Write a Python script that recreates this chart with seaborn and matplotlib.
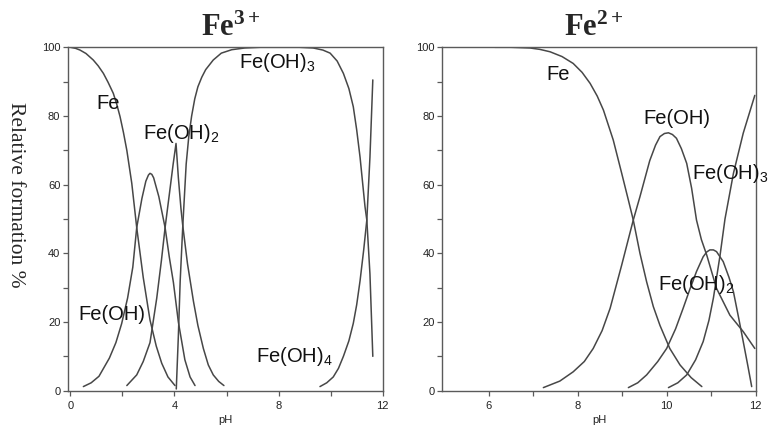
import matplotlib
matplotlib.use("Agg")
import matplotlib.pyplot as plt
import seaborn as sns
import pandas as pd

# ---------------- data ----------------
# Fe3+ panel
fe3_fe_ph = [0.0, 0.2, 0.37, 0.6, 0.88, 1.07, 1.27, 1.45, 1.65, 1.78, 1.91, 2.04, 2.17, 2.36, 2.55, 2.8, 3.06, 3.3, 3.51, 3.75, 4.02]
fe3_fe_val = [100, 99.7, 99.2, 98.2, 96.3, 94.6, 92.4, 89.8, 86.6, 83.5, 79.8, 75.2, 70, 60.4, 47.5, 33, 20.6, 13, 8, 4, 1.5]

fe3_feoh_ph = [0.5, 0.8, 1.1, 1.5, 1.75, 1.97, 2.2, 2.4, 2.55, 2.75, 2.9, 3.0, 3.06, 3.13, 3.2, 3.4, 3.64, 3.8, 3.96, 4.15, 4.4, 4.6, 4.79]
fe3_feoh_val = [1.2, 2.3, 4.2, 9.5, 14, 19.5, 27, 36, 47.5, 56, 61, 62.8, 63.3, 63, 62, 56.5, 47.5, 39, 31.5, 20, 9, 4, 1.5]

fe3_feoh2_ph = [2.17, 2.55, 2.8, 3.06, 3.32, 3.5, 3.64, 3.8, 3.95, 4.06, 4.15, 4.25, 4.32, 4.5, 4.73, 4.9, 5.11, 5.3, 5.49, 5.7, 5.9]
fe3_feoh2_val = [1.5, 4.6, 8.5, 14, 27, 38, 47.5, 57, 66, 72, 62, 53, 48, 37, 26, 19, 12.3, 7.5, 4.6, 2.7, 1.5]

fe3_feoh3_ph = [4.07, 4.15, 4.22, 4.32, 4.45, 4.55, 4.66, 4.78, 4.9, 5.05, 5.2, 5.49, 5.8, 6.2, 6.7, 7.3, 8.0, 8.8, 9.33,
                9.7, 9.98, 10.25, 10.49, 10.7, 10.87, 11.0, 11.13, 11.32, 11.39, 11.51, 11.62]
fe3_feoh3_val = [0.5, 16, 32, 48, 66, 74, 80, 85, 88.5, 91.3, 93.5, 96.3, 98.3, 99.3, 99.8, 100, 100, 100, 99.8,
                 99.2, 98.3, 96, 92.4, 88, 82.7, 76, 68, 53.6, 49.7, 34, 10]

fe3_feoh4_ph = [9.59, 9.85, 10.1, 10.3, 10.49, 10.7, 10.87, 11.0, 11.13, 11.27, 11.39, 11.51, 11.62]
fe3_feoh4_val = [1.2, 2.3, 4, 6.5, 10, 14.5, 19.6, 25, 32, 41, 49.7, 68, 90.5]

# Fe2+ panel
fe2_fe_ph = [6.14, 6.5, 6.93, 7.15, 7.38, 7.65, 7.9, 8.1, 8.28, 8.44, 8.58, 8.8, 8.99, 9.14, 9.25, 9.4, 9.55, 9.7, 9.85, 10.07, 10.3, 10.55, 10.79]
fe2_fe_val = [100, 100, 99.8, 99.4, 98.7, 97.3, 95.3, 92.7, 89.5, 85.8, 81.7, 73, 63.3, 55.5, 49.7, 40, 31.7, 24.5, 19, 12.3, 7.5, 3.8, 1.2]

fe2_feoh_ph = [7.23, 7.6, 7.9, 8.15, 8.35, 8.55, 8.73, 8.99, 9.25, 9.4, 9.62, 9.75, 9.85, 9.95, 10.04, 10.13, 10.22, 10.33, 10.45,
               10.56, 10.67, 10.78, 10.9, 11.12, 11.42, 11.72, 11.98]
fe2_feoh_val = [0.9, 2.8, 5.5, 8.5, 12.3, 17.5, 24, 36.6, 49.7, 56.5, 67, 71.5, 74, 74.9, 75.1, 74.6, 73.5, 70.5, 66.2,
                59, 49.7, 44, 39.5, 29.8, 22, 17.2, 12.3]

fe2_feoh2_ph = [9.14, 9.35, 9.55, 9.8, 10.0, 10.2, 10.37, 10.52, 10.67, 10.82, 10.9, 10.97, 11.05, 11.12, 11.27, 11.4, 11.5, 11.62, 11.72, 11.82, 11.91]
fe2_feoh2_val = [0.9, 2.3, 4.6, 8.5, 12.3, 18, 24, 29.5, 34.7, 39, 40.4, 41, 41, 40.5, 37.6, 33, 28.8, 21, 14.3, 7.5, 1.2]

fe2_feoh3_ph = [10.04, 10.25, 10.45, 10.65, 10.82, 10.95, 11.05, 11.2, 11.31, 11.5, 11.72, 11.98]
fe2_feoh3_val = [0.9, 2.3, 4.6, 9, 14.3, 20.5, 27, 39.5, 50, 63.3, 75, 86]

y_ticks = [0, 20, 40, 60, 80, 100]
fe3_xticks = [0, 4, 8, 12]
fe2_xticks = [6, 8, 10, 12]

# ---------------- style ----------------
sns.set_style("ticks")
plt.rcParams["font.family"] = ["Liberation Sans", "DejaVu Sans"]
plt.rcParams["mathtext.fontset"] = "custom"
plt.rcParams["mathtext.rm"] = "Liberation Sans"
plt.rcParams["mathtext.it"] = "Liberation Sans"
plt.rcParams["mathtext.bf"] = "Liberation Serif:bold"

LINE = "#474747"
SPINE = "#5a5a5a"

fig = plt.figure(figsize=(7.7, 4.32), dpi=100)
ax1 = fig.add_axes([68 / 770, 41.3 / 432, 314.7 / 770, 343.4 / 432])
ax2 = fig.add_axes([442.3 / 770, 41.3 / 432, 313.4 / 770, 343.4 / 432])


def draw(ax, ph, val):
    df = pd.DataFrame({"pH": ph, "v": val})
    sns.lineplot(data=df, x="pH", y="v", ax=ax, color=LINE, lw=1.1,
                 estimator=None, sort=False)


for ph, val in [(fe3_fe_ph, fe3_fe_val), (fe3_feoh_ph, fe3_feoh_val),
                (fe3_feoh2_ph, fe3_feoh2_val), (fe3_feoh3_ph, fe3_feoh3_val),
                (fe3_feoh4_ph, fe3_feoh4_val)]:
    draw(ax1, ph, val)

for ph, val in [(fe2_fe_ph, fe2_fe_val), (fe2_feoh_ph, fe2_feoh_val),
                (fe2_feoh2_ph, fe2_feoh2_val), (fe2_feoh3_ph, fe2_feoh3_val)]:
    draw(ax2, ph, val)

ax1.set_xlim(-0.09, 12.0)
ax2.set_xlim(4.96, 12.0)

for ax in (ax1, ax2):
    ax.set_ylim(0, 100)
    ax.set_yticks(y_ticks)
    ax.set_yticks([10, 30, 50, 70, 90], minor=True)
    ax.tick_params(which="both", direction="out", length=3.5, width=0.9,
                   color=SPINE, labelsize=8, pad=2, labelcolor="#222222")
    for s in ax.spines.values():
        s.set_color(SPINE)
        s.set_linewidth(1.0)
    ax.set_ylabel("")
    ax.set_xlabel("pH", fontsize=8, labelpad=3, color="#222222")

ax1.set_xticks(fe3_xticks)
ax1.set_xticks([2, 6, 10], minor=True)
ax2.set_xticks(fe2_xticks)
ax2.set_xticks([7, 9, 11], minor=True)
for ax in (ax1, ax2):
    ax.tick_params(axis="x", which="both", pad=4)

# titles
ax1.text(0.519, 1.032, r"$\mathbf{Fe^{3+}}$", transform=ax1.transAxes,
         ha="center", va="baseline", fontsize=22)
ax2.text(0.484, 1.032, r"$\mathbf{Fe^{2+}}$", transform=ax2.transAxes,
         ha="center", va="baseline", fontsize=22)

fig.text(15 / 770, (432 - 195) / 432, "Relative formation %", rotation=270,
         fontsize=15.5, family=["Liberation Serif", "DejaVu Serif"],
         ha="center", va="center")

# curve labels
kw = dict(fontsize=14.5, ha="left", va="center", color="#111111", clip_on=False)
ax1.text(0.99, 83.5, "Fe", **kw)
ax1.text(2.79, 75, r"Fe(OH)$_2$", **kw)
ax1.text(6.49, 95.7, r"Fe(OH)$_3$", **kw)
ax1.text(0.30, 22.3, "Fe(OH)", **kw)
ax1.text(7.13, 10.1, r"Fe(OH)$_4$", **kw)

ax2.text(7.30, 92.2, "Fe", **kw)
ax2.text(9.47, 79.3, "Fe(OH)", **kw)
ax2.text(10.56, 63.3, r"Fe(OH)$_3$", **kw)
ax2.text(9.81, 30.8, r"Fe(OH)$_2$", **kw)

fig.savefig("out.png", dpi=100, facecolor="white")
